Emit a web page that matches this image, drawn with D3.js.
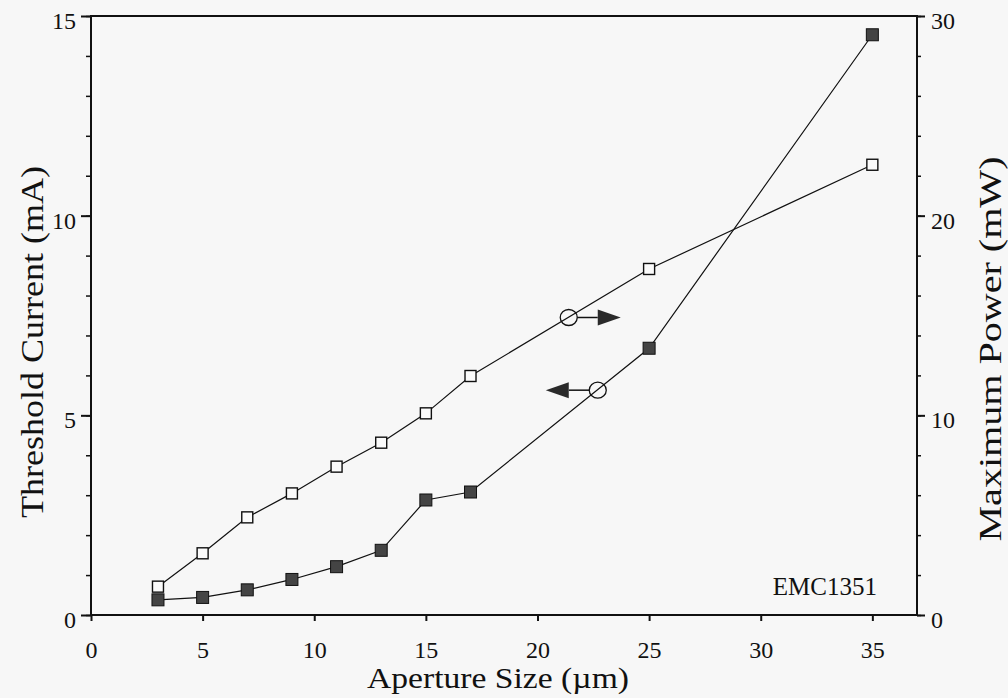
<!DOCTYPE html>
<html>
<head>
<meta charset="utf-8">
<script src="https://cdn.jsdelivr.net/npm/d3@7"></script>
<style>
  body { margin: 0; background: #f7f7f7; }
  svg { display: block; }
</style>
</head>
<body>
<div id="chart"></div>
<script>
// Threshold current and max power vs aperture size (EMC1351)

// data
var apertures = [3, 5, 7, 9, 11, 13, 15, 17, 25, 35];
var thresholdCurrent = [0.38, 0.44, 0.63, 0.89, 1.21, 1.62, 2.88, 3.08, 6.68, 14.53]; // mA, left axis
var maxPower = [1.42, 3.09, 4.89, 6.09, 7.43, 8.63, 10.1, 11.97, 17.33, 22.55];       // mW, right axis

var xTicks = [0, 5, 10, 15, 20, 25, 30, 35];
var leftTicks = [0, 5, 10, 15];
var rightTicks = [0, 10, 20, 30];

// arrow annotations: which axis, where the circle sits, which way it points
var arrowNotes = [
  { axis: "right", x: 21.4, y: 14.9, dir: 1 },
  { axis: "left", x: 22.7, y: 5.63, dir: -1 }
];

var myNS = {};
myNS.width = 1008;
myNS.height = 698;
myNS.left = 91;
myNS.right = 917;
myNS.top = 16;
myNS.bottom = 615;
myNS.font = "Liberation Serif";

var svg = d3.select("#chart")
    .append("svg")
    .attr("width", myNS.width)
    .attr("height", myNS.height)
    .attr("font-family", myNS.font);

svg.append("rect")
    .attr("width", myNS.width)
    .attr("height", myNS.height)
    .attr("fill", "#f7f7f7");

// scales
var xScale = d3.scaleLinear().domain([0, 37]).range([myNS.left, myNS.right]);
var yLeft = d3.scaleLinear().domain([0, 15]).range([myNS.bottom, myNS.top]);
var yRight = d3.scaleLinear().domain([0, 30]).range([myNS.bottom, myNS.top]);

// frame
svg.append("rect")
    .attr("x", myNS.left)
    .attr("y", myNS.top)
    .attr("width", myNS.right - myNS.left)
    .attr("height", myNS.bottom - myNS.top)
    .attr("fill", "none")
    .attr("stroke", "#111")
    .attr("stroke-width", 2);

// minor ticks
svg.append("g")
    .attr("transform", "translate(" + myNS.left + ",0)")
    .call(d3.axisLeft(yLeft).tickValues(d3.range(0, 16, 1)).tickSize(5).tickFormat(""))
    .call(function(g) { g.select(".domain").remove(); })
    .selectAll("line").attr("stroke", "#111").attr("stroke-width", 1.5);

svg.append("g")
    .attr("transform", "translate(" + myNS.right + ",0)")
    .call(d3.axisRight(yRight).tickValues(d3.range(0, 31, 2)).tickSize(4).tickFormat(""))
    .call(function(g) { g.select(".domain").remove(); })
    .selectAll("line").attr("stroke", "#111").attr("stroke-width", 1.5);

// major axes
var xAxisG = svg.append("g")
    .attr("transform", "translate(0," + myNS.bottom + ")")
    .call(d3.axisBottom(xScale).tickValues(xTicks).tickSize(6).tickPadding(20));

var leftAxisG = svg.append("g")
    .attr("transform", "translate(" + myNS.left + ",0)")
    .call(d3.axisLeft(yLeft).tickValues(leftTicks).tickSize(10).tickPadding(5));

var rightAxisG = svg.append("g")
    .attr("transform", "translate(" + myNS.right + ",0)")
    .call(d3.axisRight(yRight).tickValues(rightTicks).tickSize(8).tickPadding(6));

[xAxisG, leftAxisG, rightAxisG].forEach(function(g) {
    g.attr("font-family", myNS.font).attr("font-size", 24);
    g.select(".domain").remove();
    g.selectAll("line").attr("stroke", "#111").attr("stroke-width", 2);
    g.selectAll("text")
        .attr("font-family", myNS.font)
        .attr("font-size", 24)
        .attr("fill", "#111");
});
leftAxisG.selectAll("text").attr("dy", "0.52em");
rightAxisG.selectAll("text").attr("dy", "0.52em");

// lines
var rows = apertures.map(function(a, i) {
    return { x: a, cur: thresholdCurrent[i], pow: maxPower[i] };
});

var powerLine = d3.line()
    .x(function(d) { return xScale(d.x); })
    .y(function(d) { return yRight(d.pow); });

var currentLine = d3.line()
    .x(function(d) { return xScale(d.x); })
    .y(function(d) { return yLeft(d.cur); });

svg.append("path")
    .datum(rows)
    .attr("d", powerLine)
    .attr("fill", "none")
    .attr("stroke", "#111")
    .attr("stroke-width", 1.2);

svg.append("path")
    .datum(rows)
    .attr("d", currentLine)
    .attr("fill", "none")
    .attr("stroke", "#111")
    .attr("stroke-width", 1.2);

// markers: open squares = power, filled squares = current
var openSize = 11;
svg.selectAll("rect.pow")
    .data(rows)
    .enter()
    .append("rect")
    .attr("class", "pow")
    .attr("x", function(d) { return xScale(d.x) - openSize / 2; })
    .attr("y", function(d) { return yRight(d.pow) - openSize / 2; })
    .attr("width", openSize)
    .attr("height", openSize)
    .attr("fill", "#fbfbfb")
    .attr("stroke", "#111")
    .attr("stroke-width", 1.4);

var fillSize = 12;
svg.selectAll("rect.cur")
    .data(rows)
    .enter()
    .append("rect")
    .attr("class", "cur")
    .attr("x", function(d) { return xScale(d.x) - fillSize / 2; })
    .attr("y", function(d) { return yLeft(d.cur) - fillSize / 2; })
    .attr("width", fillSize)
    .attr("height", fillSize)
    .attr("fill", "#444")
    .attr("stroke", "#111")
    .attr("stroke-width", 1);

// arrow annotations
arrowNotes.forEach(function(n) {
    var cx = xScale(n.x);
    var cy = (n.axis === "left" ? yLeft : yRight)(n.y);
    var r = 8.5;
    var lineEnd = cx + n.dir * 29;
    var tip = lineEnd + n.dir * 23;

    svg.append("line")
        .attr("x1", cx + n.dir * r)
        .attr("x2", lineEnd)
        .attr("y1", cy)
        .attr("y2", cy)
        .attr("stroke", "#111")
        .attr("stroke-width", 1.5);

    svg.append("path")
        .attr("d", "M" + lineEnd + "," + (cy - 8) + " L" + tip + "," + cy +
              " L" + lineEnd + "," + (cy + 8) + " Z")
        .attr("fill", "#2a2a2a");

    svg.append("ellipse")
        .attr("cx", cx)
        .attr("cy", cy)
        .attr("rx", r)
        .attr("ry", 8)
        .attr("fill", "none")
        .attr("stroke", "#111")
        .attr("stroke-width", 1.3);
});

// texts
svg.append("text")
    .attr("x", 877)
    .attr("y", 595)
    .attr("text-anchor", "end")
    .attr("font-size", 25)
    .attr("fill", "#111")
    .text("EMC1351");

svg.append("text")
    .attr("x", 498)
    .attr("y", 688)
    .attr("text-anchor", "middle")
    .attr("font-size", 30)
    .attr("textLength", 262)
    .attr("lengthAdjust", "spacingAndGlyphs")
    .attr("fill", "#111")
    .text("Aperture Size (\u00b5m)");

svg.append("text")
    .attr("transform", "translate(43,342) rotate(-90)")
    .attr("text-anchor", "middle")
    .attr("font-size", 31)
    .attr("textLength", 352)
    .attr("lengthAdjust", "spacingAndGlyphs")
    .attr("fill", "#111")
    .text("Threshold Current (mA)");

svg.append("text")
    .attr("transform", "translate(1001,349) rotate(-90)")
    .attr("text-anchor", "middle")
    .attr("font-size", 32)
    .attr("textLength", 385)
    .attr("lengthAdjust", "spacingAndGlyphs")
    .attr("fill", "#111")
    .text("Maximum Power (mW)");
</script>
</body>
</html>
